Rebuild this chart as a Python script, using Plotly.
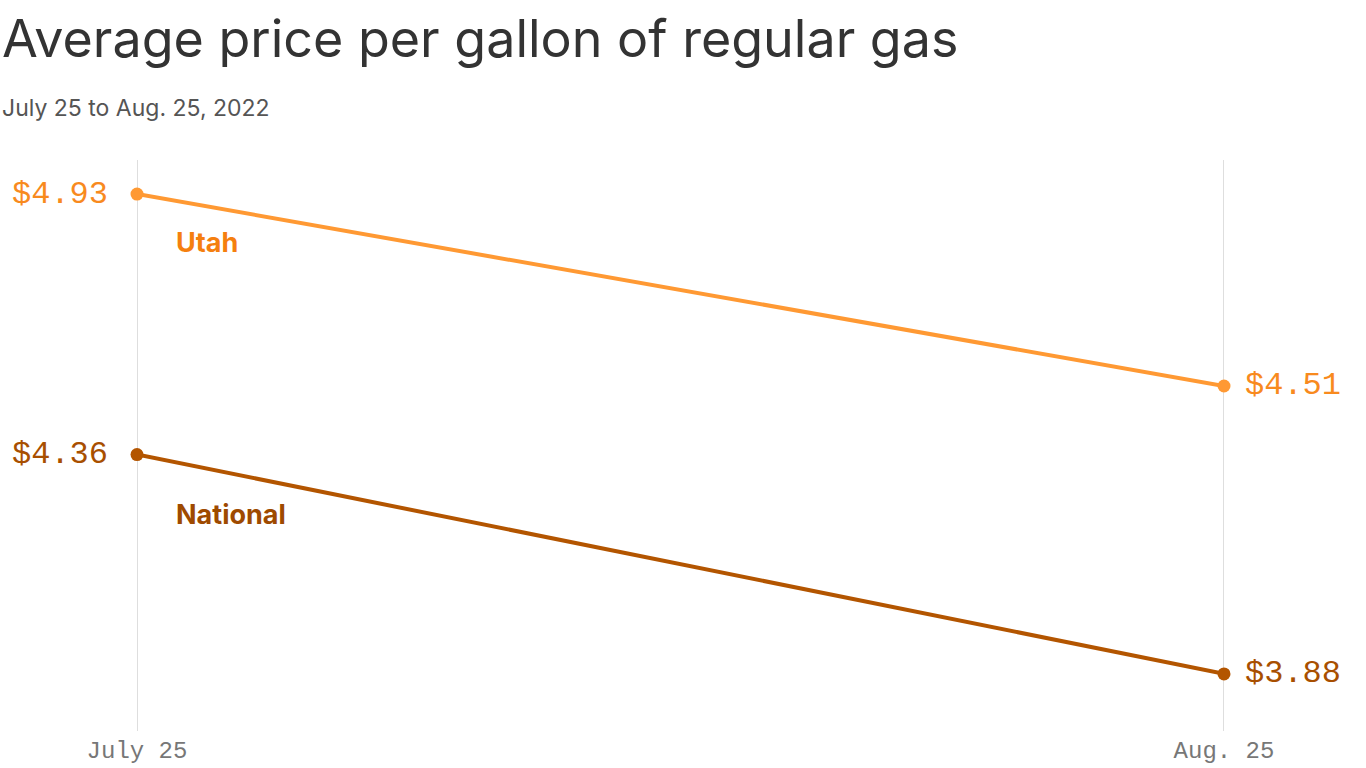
import plotly.graph_objects as go

dates = ["July 25", "Aug. 25"]
x_pos = [0, 1]
utah = [4.93, 4.51]
national = [4.36, 3.88]
series_names = ["Utah", "National"]

UTAH_LINE = "#FF9933"
UTAH_TEXT = "#F57F0F"
NAT_LINE = "#B35500"
NAT_TEXT = "#9E4A00"
MONO = "Liberation Mono, DejaVu Sans Mono, monospace"
SANS = "Inter, Roboto, sans-serif"

fig = go.Figure()
for vals, name, col in [(utah, series_names[0], UTAH_LINE), (national, series_names[1], NAT_LINE)]:
    fig.add_trace(go.Scatter(
        x=x_pos, y=vals, mode="lines+markers", name=name,
        line=dict(color=col, width=4), marker=dict(color=col, size=13),
        cliponaxis=False, showlegend=False, hoverinfo="skip"))

# vertical gridlines at the two dates
for xv in x_pos:
    fig.add_shape(type="line", xref="x", yref="paper", x0=xv, x1=xv, y0=0, y1=1,
                  line=dict(color="#DEDEDE", width=2), layer="below")

def value_labels(vals, tcol):
    out = []
    out.append(dict(x=x_pos[0], y=vals[0], xref="x", yref="y", text=f"${vals[0]:.2f}",
                    showarrow=False, xanchor="right", yanchor="middle", xshift=-27,
                    font=dict(family=MONO, size=32, color=tcol)))
    out.append(dict(x=x_pos[1], y=vals[1], xref="x", yref="y", text=f"${vals[1]:.2f}",
                    showarrow=False, xanchor="left", yanchor="middle", xshift=19,
                    font=dict(family=MONO, size=32, color=tcol)))
    return out

annots = []
annots += value_labels(utah, "#F88A1E")
annots += value_labels(national, "#A84F00")

annots.append(dict(x=x_pos[0], y=utah[0], xref="x", yref="y", text="<b>Utah</b>",
                   showarrow=False, xanchor="left", yanchor="middle", xshift=37, yshift=-48,
                   font=dict(family=SANS, size=27, color=UTAH_TEXT)))
annots.append(dict(x=x_pos[0], y=national[0], xref="x", yref="y", text="<b>National</b>",
                   showarrow=False, xanchor="left", yanchor="middle", xshift=37, yshift=-60,
                   font=dict(family=SANS, size=27, color=NAT_TEXT)))

annots.append(dict(x=0, y=1, xref="paper", yref="paper", xshift=-137, yshift=160 - 38,
                   text="Average price per gallon of regular gas", showarrow=False,
                   xanchor="left", yanchor="middle",
                   font=dict(family=SANS, size=52, color="#333333")))
annots.append(dict(x=0, y=1, xref="paper", yref="paper", xshift=-137, yshift=160 - 108,
                   text="July 25 to Aug. 25, 2022", showarrow=False,
                   xanchor="left", yanchor="middle",
                   font=dict(family=SANS, size=23, color="#555555")))

fig.update_layout(
    width=1366, height=768,
    margin=dict(l=137, r=142, t=160, b=37),
    plot_bgcolor="white", paper_bgcolor="white",
    annotations=annots,
    xaxis=dict(range=[0, 1], tickvals=x_pos, ticktext=dates, showgrid=False,
               zeroline=False, showline=False, ticks="", ticklabelstandoff=2,
               automargin=False,
               tickfont=dict(family=MONO, size=24, color="#777777"),
               fixedrange=True),
    yaxis=dict(range=[3.755, 5.0045], showgrid=False, zeroline=False, showline=False,
               showticklabels=False, fixedrange=True, automargin=False),
)
fig.write_html("out.html", config={"displayModeBar": False},
               post_script="document.body.style.margin='0';document.body.style.padding='0';")
